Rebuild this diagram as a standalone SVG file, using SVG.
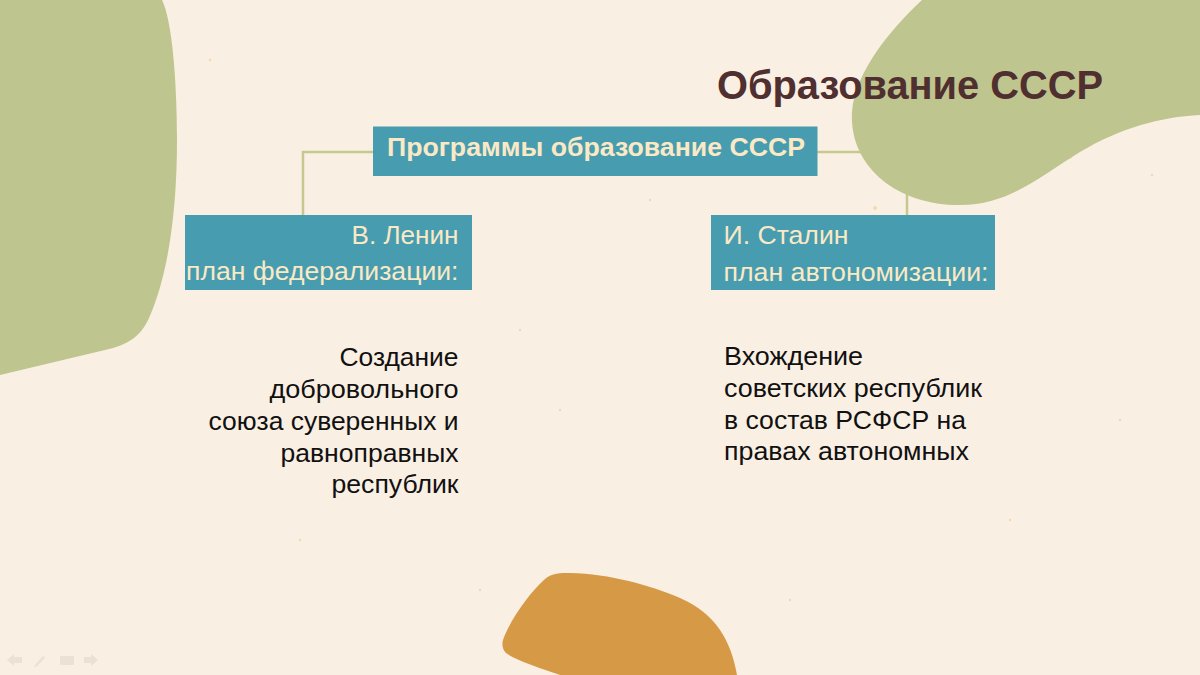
<svg xmlns="http://www.w3.org/2000/svg" width="1200" height="675" viewBox="0 0 1200 675">
<style>
.blob-green{fill:#BFC58E}
.blob-orange{fill:#D69A46}
.conn{stroke:#C5C88F;stroke-width:2.5;fill:none}
.box{fill:#479DAF}
.boxtxt{font-family:"Liberation Sans",Arial,sans-serif;fill:#FBE9C6;font-size:25px}
.body{font-family:"Liberation Sans",Arial,sans-serif;fill:#111111;font-size:25px}
.dot{fill:#F5C98F;opacity:0.6}
.nav{fill:#E9DED0}
</style>
<rect width="1200" height="675" fill="#FAEFE3"/>
<g id="texture">
<circle class="dot" cx="875" cy="208" r="2"/>
<circle class="dot" cx="1070" cy="157" r="2"/>
<circle class="dot" cx="1100" cy="140" r="1.3"/>
<circle class="dot" cx="1152" cy="175" r="1.3"/>
<circle class="dot" cx="980" cy="230" r="1.2"/>
<circle class="dot" cx="650" cy="200" r="1.2"/>
<circle class="dot" cx="520" cy="330" r="1.2"/>
<circle class="dot" cx="560" cy="410" r="1.2"/>
<circle class="dot" cx="1010" cy="520" r="1.2"/>
<circle class="dot" cx="1120" cy="420" r="1.2"/>
<circle class="dot" cx="480" cy="590" r="1.2"/>
<circle class="dot" cx="210" cy="60" r="1.2"/>
<circle class="dot" cx="300" cy="540" r="1.2"/>
<circle class="dot" cx="790" cy="600" r="1.2"/>
</g>
<g id="blob-left"><path class="blob-green" d="M0,0 L162,0 C172,20 177,80 177,140 C177,220 166,280 149,318 C141,336 128,345 105,350 L0,375 Z"/></g>
<g id="connectors">
<path class="conn" d="M373,152 L303,152 L303,215"/>
<path class="conn" d="M817,152 L907,152 L907,215"/>
</g>
<g id="blob-right"><path class="blob-green" d="M922,0 C890,30 855,72 852,112 C849,165 895,205 960,205 C1010,205 1040,176 1080,152 C1120,128 1160,117 1200,115 L1200,0 Z"/></g>
<g id="blob-bottom"><path class="blob-orange" d="M503,640 C510,620 530,592 545,579 C552,573 560,573 570,573 C610,574 650,585 680,598 C715,613 731,640 737,675 L560,675 C540,668 515,660 506,653 C502,649 502,644 503,640 Z"/></g>
<g id="title"><text x="717" y="98.5" font-family="Liberation Sans, Arial, sans-serif" font-weight="bold" font-size="40" fill="#4F2F2F" textLength="386" lengthAdjust="spacingAndGlyphs">Образование СССР</text></g>
<g id="node-root">
<rect class="box" x="373" y="126.5" width="444.5" height="49.5"/>
<text class="boxtxt" x="596" y="156" text-anchor="middle" font-weight="bold" font-size="26" textLength="418" lengthAdjust="spacingAndGlyphs">Программы образование СССР</text>
</g>
<g id="node-lenin">
<rect class="box" x="185" y="215" width="287" height="75"/>
<text class="boxtxt" x="458.5" y="244" text-anchor="end" textLength="107" lengthAdjust="spacingAndGlyphs">В. Ленин</text>
<text class="boxtxt" x="458.5" y="280" text-anchor="end" textLength="272.5" lengthAdjust="spacingAndGlyphs">план федерализации:</text>
</g>
<g id="node-stalin">
<rect class="box" x="711" y="215" width="284" height="75"/>
<text class="boxtxt" x="723.5" y="243.5" textLength="125" lengthAdjust="spacingAndGlyphs">И. Сталин</text>
<text class="boxtxt" x="723.5" y="281" textLength="265" lengthAdjust="spacingAndGlyphs">план автономизации:</text>
</g>
<g id="text-lenin">
<text class="body" x="458.5" y="366" text-anchor="end" textLength="119" lengthAdjust="spacingAndGlyphs">Создание</text>
<text class="body" x="458.5" y="398" text-anchor="end" textLength="189" lengthAdjust="spacingAndGlyphs">добровольного</text>
<text class="body" x="458.5" y="430" text-anchor="end" textLength="250" lengthAdjust="spacingAndGlyphs">союза суверенных и</text>
<text class="body" x="458.5" y="461.5" text-anchor="end" textLength="178" lengthAdjust="spacingAndGlyphs">равноправных</text>
<text class="body" x="458.5" y="493" text-anchor="end" textLength="127" lengthAdjust="spacingAndGlyphs">республик</text>
</g>
<g id="text-stalin">
<text class="body" x="724" y="365" textLength="139" lengthAdjust="spacingAndGlyphs">Вхождение</text>
<text class="body" x="724" y="397" textLength="258" lengthAdjust="spacingAndGlyphs">советских республик</text>
<text class="body" x="724" y="428.5" textLength="242" lengthAdjust="spacingAndGlyphs">в состав РСФСР на</text>
<text class="body" x="724" y="459.5" textLength="245" lengthAdjust="spacingAndGlyphs">правах автономных</text>
</g>
<g id="nav" opacity="0.8">
<path class="nav" d="M7,660 L14,654 L14,657 L22,657 L22,663 L14,663 L14,666 Z"/>
<path class="nav" d="M34,666 L43,656 L45,658 L36,667 Z"/>
<rect class="nav" x="60" y="656" width="14" height="9" rx="1"/>
<path class="nav" d="M98,660 L91,654 L91,657 L84,657 L84,663 L91,663 L91,666 Z"/>
</g>
</svg>
